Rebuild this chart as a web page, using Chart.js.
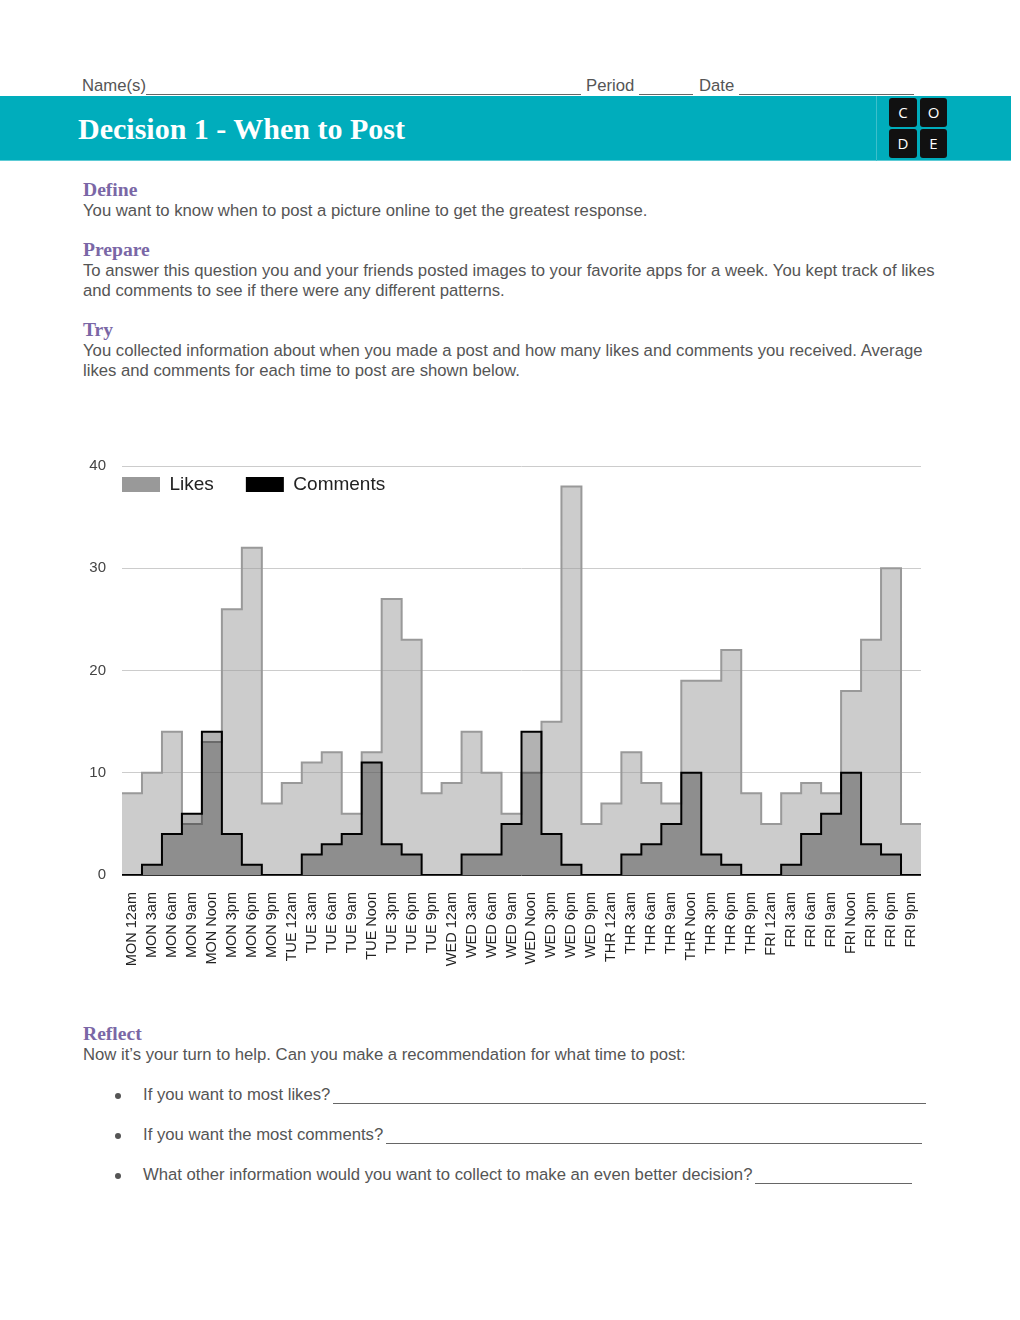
<!DOCTYPE html>
<html><head><meta charset="utf-8">
<script src="https://cdn.jsdelivr.net/npm/chart.js@4.4.1/dist/chart.umd.min.js"></script>
<style>
body{margin:0;width:1020px;height:1320px;background:#fff;position:relative;font-family:"Liberation Sans",Arial,sans-serif;color:#555;overflow:hidden}
.t{position:absolute;font-size:16.7px;line-height:20px;white-space:nowrap;}
.h{position:absolute;font-family:"Liberation Serif","Times New Roman",serif;font-weight:bold;font-size:19.6px;line-height:22px;color:#7a67a6;}
.ln{position:absolute;height:1px;background:#666;}
.sq{position:absolute;width:28px;height:29px;background:#111;border-radius:3px;color:#fff;font-family:"Open Sans","Liberation Sans",sans-serif;font-size:15px;line-height:29px;text-align:center;}
.dot{position:absolute;width:6px;height:6px;border-radius:50%;background:#555;left:115px;}
</style></head>
<body>
<div class="t" style="left:82px;top:76px">Name(s)</div>
<div class="ln" style="left:146px;width:435px;top:94px"></div>
<div class="t" style="left:586px;top:76px">Period</div>
<div class="ln" style="left:639px;width:54px;top:94px"></div>
<div class="t" style="left:699px;top:76px">Date</div>
<div class="ln" style="left:739px;width:175px;top:94px"></div>

<div style="position:absolute;left:0;top:96px;width:1011px;height:65px;background:#00adbc;border-bottom:1px solid #5ccbd5;box-sizing:border-box"></div>
<div style="position:absolute;left:876px;top:96px;width:1px;height:65px;background:#3dbfcb"></div>
<div style="position:absolute;left:78px;top:111px;font-family:'Liberation Serif','Times New Roman',serif;font-weight:bold;font-size:30px;line-height:36px;color:#fff;white-space:nowrap">Decision 1 - When to Post</div>
<div class="sq" style="left:889px;top:98px">C</div>
<div class="sq" style="left:920px;top:98px;width:27px">O</div>
<div class="sq" style="left:889px;top:129px">D</div>
<div class="sq" style="left:920px;top:129px;width:27px">E</div>

<div class="h" style="left:83px;top:179px">Define</div>
<div class="t" style="left:83px;top:201px">You want to know when to post a picture online to get the greatest response.</div>
<div class="h" style="left:83px;top:239px">Prepare</div>
<div class="t" style="left:83px;top:261px">To answer this question you and your friends posted images to your favorite apps for a week. You kept track of likes<br>and comments to see if there were any different patterns.</div>
<div class="h" style="left:83px;top:319px">Try</div>
<div class="t" style="left:83px;top:341px">You collected information about when you made a post and how many likes and comments you received. Average<br>likes and comments for each time to post are shown below.</div>

<div style="position:absolute;left:0;top:441px;width:1020px;height:549px"><canvas id="c"></canvas></div>

<div class="h" style="left:83px;top:1023px">Reflect</div>
<div class="t" style="left:83px;top:1045px">Now it’s your turn to help. Can you make a recommendation for what time to post:</div>
<div class="dot" style="top:1093px"></div>
<div class="t" style="left:143px;top:1085px">If you want to most likes?</div>
<div class="ln" style="left:333px;width:593px;top:1103px"></div>
<div class="dot" style="top:1133px"></div>
<div class="t" style="left:143px;top:1125px">If you want the most comments?</div>
<div class="ln" style="left:386px;width:536px;top:1143px"></div>
<div class="dot" style="top:1173px"></div>
<div class="t" style="left:143px;top:1165px">What other information would you want to collect to make an even better decision?</div>
<div class="ln" style="left:755px;width:157px;top:1183px"></div>

<script>
const categories = [
  "MON 12am","MON 3am","MON 6am","MON 9am","MON Noon","MON 3pm","MON 6pm","MON 9pm",
  "TUE 12am","TUE 3am","TUE 6am","TUE 9am","TUE Noon","TUE 3pm","TUE 6pm","TUE 9pm",
  "WED 12am","WED 3am","WED 6am","WED 9am","WED Noon","WED 3pm","WED 6pm","WED 9pm",
  "THR 12am","THR 3am","THR 6am","THR 9am","THR Noon","THR 3pm","THR 6pm","THR 9pm",
  "FRI 12am","FRI 3am","FRI 6am","FRI 9am","FRI Noon","FRI 3pm","FRI 6pm","FRI 9pm"
];
const likes = [
  8,10,14,5,13,26,32,7,
  9,11,12,6,12,27,23,8,
  9,14,10,6,10,15,38,5,
  7,12,9,7,19,19,22,8,
  5,8,9,8,18,23,30,5
];
const comments = [
  0,1,4,6,14,4,1,0,
  0,2,3,4,11,3,2,0,
  0,2,2,5,14,4,1,0,
  0,2,3,5,10,2,1,0,
  0,1,4,6,10,3,2,0
];
const yTicks = [0,10,20,30,40];

function stepPoints(vals){
  const pts = vals.map((v,i)=>({x:i,y:v}));
  pts.push({x:vals.length,y:vals[vals.length-1]});
  return pts;
}

// Legend drawn inside the plot area, top-left, in dataset index order
const innerLegend = {
  id:'innerLegend',
  afterDraw(chart){
    const ctx = chart.ctx, area = chart.chartArea;
    ctx.save();
    ctx.font = '19px "Liberation Sans", Arial, sans-serif';
    ctx.textBaseline = 'middle';
    ctx.textAlign = 'left';
    let x = area.left;
    const cy = area.top + 18.5;
    chart.data.datasets.forEach(ds=>{
      ctx.fillStyle = ds.borderColor;
      ctx.fillRect(x, cy - 7.5, 38, 15);
      ctx.fillStyle = '#222';
      ctx.fillText(ds.label, x + 38 + 9.5, cy);
      x += 38 + 9.5 + ctx.measureText(ds.label).width + 32;
    });
    ctx.restore();
  }
};

new Chart(document.getElementById('c'), {
  type:'line',
  data:{
    datasets:[
      {label:'Likes', data:stepPoints(likes), stepped:'before', borderColor:'#999999', backgroundColor:'rgba(153,153,153,0.5)', borderWidth:2, fill:'origin', pointRadius:0, order:1},
      {label:'Comments', data:stepPoints(comments), stepped:'before', borderColor:'#000000', backgroundColor:'rgba(0,0,0,0.3)', borderWidth:2, fill:'origin', pointRadius:0, order:0}
    ]
  },
  options:{
    responsive:true, maintainAspectRatio:false, animation:false, devicePixelRatio:1,
    layout:{padding:{left:0,right:99,top:7,bottom:0}},
    plugins:{
      tooltip:{enabled:false},
      legend:{display:false}
    },
    scales:{
      x:{
        type:'linear', min:0, max:categories.length,
        grid:{display:false, drawTicks:false}, border:{display:false},
        afterBuildTicks(axis){ axis.ticks = categories.map((c,i)=>({value:i+0.5})); },
        afterFit(axis){ axis.height = 115; },
        ticks:{
          autoSkip:false, maxRotation:90, minRotation:90, padding:17, color:'#222',
          font:{family:'"Liberation Sans", Arial, sans-serif', size:14.5},
          callback(v){ return categories[Math.floor(v)]; }
        }
      },
      y:{
        min:0, max:40,
        afterBuildTicks(axis){ axis.ticks = yTicks.map(v=>({value:v})); },
        afterFit(axis){ axis.width = 122; },
        grid:{drawTicks:false, color:c=> c.tick && c.tick.value===0 ? '#333' : '#cccccc', lineWidth:1},
        border:{display:false},
        ticks:{padding:16, color:'#444', font:{family:'"Liberation Sans", Arial, sans-serif', size:15}}
      }
    }
  },
  plugins:[innerLegend]
});
</script>
</body></html>
